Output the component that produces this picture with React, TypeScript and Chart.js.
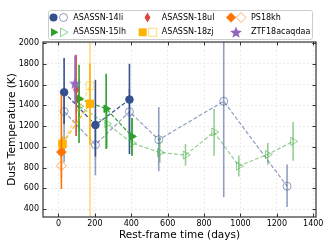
import { useEffect, useRef } from 'react';
import { Chart, registerables } from 'chart.js';
Chart.register(...registerables);

// ---- data ----
const li14Days = [31, 203, 390];
const li14Temp = [1525, 1210, 1455];
const li14Lo = [1220, 905, 930];
const li14Hi = [1855, 1645, 1800];

const li14oDays = [31, 203, 390, 551, 908, 1256];
const li14oTemp = [1340, 1020, 1338, 1068, 1438, 620];
const li14oLo = [850, 725, 1100, 765, 515, 420];
const li14oHi = [1560, 1300, 1560, 1383, 2200, 828];

const lh15Days = [113, 262, 404];
const lh15Temp = [1463, 1367, 1100];
const lh15Lo = [1036, 978, 914];
const lh15Hi = [1790, 1704, 1277];

const lh15oDays = [113, 267, 404, 557, 698, 855, 991, 1150, 1289];
const lh15oTemp = [1390, 1222, 1036, 945, 920, 1142, 814, 926, 1052];
const lh15oLo = [1150, 990, 915, 845, 817, 914, 714, 827, 866];
const lh15oHi = [1650, 1357, 1280, 1095, 1026, 1367, 917, 1037, 1238];

const ul18Days = [97];
const ul18Temp = [1550];
const ul18Lo = [1105];
const ul18Hi = [1887];

const zj18Days = [22, 173];
const zj18Temp = [1030, 1415];
const zj18Lo = [960, 1020];
const zj18Hi = [1100, 1800];

const zj18oDays = [22, 173];
const zj18oTemp = [1020, 1588];
const zj18oLo = [950, 250];
const zj18oHi = [1090, 2200];

const kh18Days = [16];
const kh18Temp = [949];
const kh18Lo = [593];
const kh18Hi = [1500];

const kh18oDays = [16];
const kh18oTemp = [817];
const kh18oLo = [700];
const kh18oHi = [950];

const ztfDays = [91];
const ztfTemp = [1610];
const ztfLo = [1420];
const ztfHi = [1880];

const legendLabels = ['ASASSN-14li', 'ASASSN-15lh', 'ASASSN-18ul', 'ASASSN-18zj', 'PS18kh', 'ZTF18acaqdaa'];

// ---- colours ----
const NAVY = '#34508e';
const NAVY_L = 'rgba(52,80,142,0.55)';
const GREEN = '#2ca02c';
const GREEN_L = 'rgba(44,160,44,0.5)';
const RED = '#d9473e';
const YELLOW = '#ffb300';
const YELLOW_L = 'rgba(255,179,0,0.5)';
const ORANGE = '#ff7300';
const ORANGE_L = 'rgba(255,115,0,0.6)';
const PURPLE = '#9467bd';
const FONT = '"DejaVu Sans", sans-serif';

function starPath(ctx: CanvasRenderingContext2D, cx: number, cy: number, ro: number, ri: number) {
  ctx.beginPath();
  for (let i = 0; i < 10; i++) {
    const r = i % 2 === 0 ? ro : ri;
    const a = -Math.PI / 2 + (i * Math.PI) / 5;
    const px = cx + r * Math.cos(a);
    const py = cy + r * Math.sin(a);
    if (i === 0) ctx.moveTo(px, py);
    else ctx.lineTo(px, py);
  }
  ctx.closePath();
}

function makeStar(): HTMLCanvasElement {
  const c = document.createElement('canvas');
  c.width = 14;
  c.height = 14;
  const g = c.getContext('2d')!;
  starPath(g, 7, 7.5, 6.2, 2.7);
  g.fillStyle = PURPLE;
  g.fill();
  return c;
}

function makeThinDiamond(): HTMLCanvasElement {
  const c = document.createElement('canvas');
  c.width = 8;
  c.height = 12;
  const g = c.getContext('2d')!;
  g.beginPath();
  g.moveTo(4, 1);
  g.lineTo(7, 6);
  g.lineTo(4, 11);
  g.lineTo(1, 6);
  g.closePath();
  g.fillStyle = RED;
  g.fill();
  return c;
}

const pts = (xs: number[], ys: number[]) => xs.map((x, i) => ({ x, y: ys[i] }));

const errPlugin = {
  id: 'errbars',
  beforeDatasetDraw(chart: any, args: any) {
    const ds = chart.data.datasets[args.index];
    if (!ds.errLo) return;
    const { ctx, chartArea } = chart;
    const xs = chart.scales.x;
    const ys = chart.scales.y;
    ctx.save();
    ctx.beginPath();
    ctx.rect(chartArea.left, chartArea.top, chartArea.right - chartArea.left, chartArea.bottom - chartArea.top);
    ctx.clip();
    ctx.strokeStyle = ds.errColor;
    ctx.lineWidth = 1.6;
    ds.data.forEach((p: any, i: number) => {
      const px = xs.getPixelForValue(p.x);
      ctx.beginPath();
      ctx.moveTo(px, ys.getPixelForValue(ds.errLo[i]));
      ctx.lineTo(px, ys.getPixelForValue(ds.errHi[i]));
      ctx.stroke();
    });
    ctx.restore();
  },
};

function drawMarker(ctx: CanvasRenderingContext2D, kind: string, x: number, y: number, color: string, open: boolean) {
  ctx.save();
  ctx.beginPath();
  if (kind === 'circle') {
    ctx.arc(x, y, 4, 0, Math.PI * 2);
  } else if (kind === 'tri') {
    ctx.moveTo(x + 5, y);
    ctx.lineTo(x - 2.5, y - 4.3);
    ctx.lineTo(x - 2.5, y + 4.3);
    ctx.closePath();
  } else if (kind === 'square') {
    ctx.rect(x - 4, y - 4, 8, 8);
  } else if (kind === 'diamond') {
    ctx.moveTo(x, y - 5);
    ctx.lineTo(x + 5, y);
    ctx.lineTo(x, y + 5);
    ctx.lineTo(x - 5, y);
    ctx.closePath();
  } else if (kind === 'thin') {
    ctx.moveTo(x, y - 5);
    ctx.lineTo(x + 3, y);
    ctx.lineTo(x, y + 5);
    ctx.lineTo(x - 3, y);
    ctx.closePath();
  } else if (kind === 'star') {
    starPath(ctx, x, y + 0.5, 6.2, 2.7);
  }
  if (open) {
    ctx.strokeStyle = color;
    ctx.lineWidth = 1;
    ctx.stroke();
  } else {
    ctx.fillStyle = color;
    ctx.fill();
  }
  ctx.restore();
}

const framePlugin = {
  id: 'frameLegend',
  afterDraw(chart: any) {
    const { ctx, chartArea } = chart;
    const { left, right, top, bottom } = chartArea;
    ctx.save();
    ctx.strokeStyle = '#333';
    ctx.lineWidth = 1.2;
    ctx.strokeRect(left, top, right - left, bottom - top);
    ctx.lineWidth = 1;
    const tl = 3.5;
    const xs = chart.scales.x;
    const ys = chart.scales.y;
    xs.ticks.forEach((t: any) => {
      const px = Math.round(xs.getPixelForValue(t.value)) + 0.5;
      ctx.beginPath();
      ctx.moveTo(px, bottom);
      ctx.lineTo(px, bottom - tl);
      ctx.moveTo(px, top);
      ctx.lineTo(px, top + tl);
      ctx.stroke();
    });
    ys.ticks.forEach((t: any) => {
      const py = Math.round(ys.getPixelForValue(t.value)) + 0.5;
      ctx.beginPath();
      ctx.moveTo(left, py);
      ctx.lineTo(left + tl, py);
      ctx.moveTo(right, py);
      ctx.lineTo(right - tl, py);
      ctx.stroke();
    });

    // legend
    const bx = 48, by = 10.5, bw = 264, bh = 29;
    ctx.fillStyle = 'rgba(255,255,255,0.9)';
    ctx.strokeStyle = '#cccccc';
    ctx.lineWidth = 1;
    ctx.beginPath();
    (ctx as any).roundRect(bx + 0.5, by, bw, bh, 2);
    ctx.fill();
    ctx.stroke();
    const r1 = 17.5, r2 = 32.3;
    drawMarker(ctx, 'circle', 53.5, r1, NAVY, false);
    drawMarker(ctx, 'circle', 63.5, r1, NAVY_L, true);
    drawMarker(ctx, 'tri', 53.5, r2, GREEN, false);
    drawMarker(ctx, 'tri', 63, r2, GREEN_L, true);
    drawMarker(ctx, 'thin', 147.5, r1, RED, false);
    drawMarker(ctx, 'square', 142.7, r2, YELLOW, false);
    drawMarker(ctx, 'square', 152.7, r2, YELLOW_L, true);
    drawMarker(ctx, 'diamond', 231, r1, ORANGE, false);
    drawMarker(ctx, 'diamond', 241, r1, ORANGE_L, true);
    drawMarker(ctx, 'star', 236, r2, PURPLE, false);
    ctx.fillStyle = '#000';
    ctx.font = '8px ' + FONT;
    ctx.textBaseline = 'middle';
    ctx.textAlign = 'left';
    ctx.fillText(legendLabels[0], 73.3, r1);
    ctx.fillText(legendLabels[1], 73.3, r2);
    ctx.fillText(legendLabels[2], 161.7, r1);
    ctx.fillText(legendLabels[3], 161.7, r2);
    ctx.fillText(legendLabels[4], 251, r1);
    ctx.fillText(legendLabels[5], 251, r2);
    ctx.restore();
  },
};

export default function App() {
  const ref = useRef<HTMLCanvasElement>(null);
  useEffect(() => {
    const star = makeStar();
    const thin = makeThinDiamond();
    const dash = [4, 2];
    const base = (over: any) => ({
      showLine: true,
      borderWidth: 1.2,
      borderDash: dash,
      pointBorderWidth: 1,
      fill: false,
      tension: 0,
      ...over,
    });
    const datasets: any[] = [
      base({
        label: 'ASASSN-14li open', data: pts(li14oDays, li14oTemp), borderColor: NAVY_L,
        pointStyle: 'circle', pointRadius: 4, pointBackgroundColor: 'rgba(0,0,0,0)', pointBorderColor: NAVY_L,
        errLo: li14oLo, errHi: li14oHi, errColor: NAVY_L, order: 100,
      }),
      base({
        label: 'ASASSN-14li', data: pts(li14Days, li14Temp), borderColor: NAVY,
        pointStyle: 'circle', pointRadius: 3.8, pointBackgroundColor: NAVY, pointBorderColor: NAVY,
        errLo: li14Lo, errHi: li14Hi, errColor: NAVY, order: 99,
      }),
      base({
        label: 'ASASSN-15lh open', data: pts(lh15oDays, lh15oTemp), borderColor: GREEN_L,
        pointStyle: 'triangle', pointRotation: 90, pointRadius: 4.6, pointBackgroundColor: 'rgba(0,0,0,0)', pointBorderColor: GREEN_L,
        errLo: lh15oLo, errHi: lh15oHi, errColor: GREEN_L, order: 98,
      }),
      base({
        label: 'ASASSN-15lh', data: pts(lh15Days, lh15Temp), borderColor: GREEN,
        pointStyle: 'triangle', pointRotation: 90, pointRadius: 4.4, pointBackgroundColor: GREEN, pointBorderColor: GREEN,
        errLo: lh15Lo, errHi: lh15Hi, errColor: GREEN, order: 97,
      }),
      base({
        label: 'ASASSN-18ul', data: pts(ul18Days, ul18Temp), borderColor: RED,
        pointStyle: thin, pointRadius: 5,
        errLo: ul18Lo, errHi: ul18Hi, errColor: RED, order: 96,
      }),
      base({
        label: 'ASASSN-18zj open', data: pts(zj18oDays, zj18oTemp), borderColor: YELLOW_L,
        pointStyle: 'rect', pointRadius: 5.5, pointBackgroundColor: 'rgba(0,0,0,0)', pointBorderColor: YELLOW_L,
        errLo: zj18oLo, errHi: zj18oHi, errColor: YELLOW_L, order: 95,
      }),
      base({
        label: 'ASASSN-18zj', data: pts(zj18Days, zj18Temp), borderColor: YELLOW,
        pointStyle: 'rect', pointRadius: 5.2, pointBackgroundColor: YELLOW, pointBorderColor: YELLOW,
        errLo: zj18Lo, errHi: zj18Hi, errColor: YELLOW, order: 94,
      }),
      base({
        label: 'PS18kh open', data: pts(kh18oDays, kh18oTemp), borderColor: ORANGE_L,
        pointStyle: 'rectRot', pointRadius: 5, pointBackgroundColor: 'rgba(0,0,0,0)', pointBorderColor: ORANGE_L,
        errLo: kh18oLo, errHi: kh18oHi, errColor: ORANGE_L, order: 93,
      }),
      base({
        label: 'PS18kh', data: pts(kh18Days, kh18Temp), borderColor: ORANGE,
        pointStyle: 'rectRot', pointRadius: 4.8, pointBackgroundColor: ORANGE, pointBorderColor: ORANGE,
        errLo: kh18Lo, errHi: kh18Hi, errColor: ORANGE, order: 92,
      }),
      base({
        label: 'ZTF18acaqdaa', data: pts(ztfDays, ztfTemp), borderColor: PURPLE,
        pointStyle: star, pointRadius: 6,
        errLo: ztfLo, errHi: ztfHi, errColor: PURPLE, order: 91,
      }),
    ];

    const chart = new Chart(ref.current!, {
      type: 'scatter',
      data: { datasets },
      plugins: [errPlugin, framePlugin],
      options: {
        animation: false,
        responsive: false,
        devicePixelRatio: 1,
        layout: { padding: { top: 42, right: 16, left: 0, bottom: 0 } },
        plugins: { legend: { display: false }, tooltip: { enabled: false } },
        font: { family: FONT },
        scales: {
          x: {
            type: 'linear',
            min: -85,
            max: 1415,
            afterFit: (s: any) => { s.height = 32; },
            grid: { color: '#e8e8e8', lineWidth: 0.8, drawTicks: false },
            border: { display: false, dash: [2, 2] },
            ticks: {
              stepSize: 200, includeBounds: false, padding: 2, color: '#000',
              font: { family: FONT, size: 8 },
              callback: (v: any) => String(v),
            },
            title: {
              display: true, text: 'Rest-frame time (days)', color: '#000',
              font: { family: FONT, size: 10.5 }, padding: { top: 0, bottom: 7.5 },
            },
          },
          y: {
            type: 'linear',
            min: 323,
            max: 2010,
            afterFit: (s: any) => { s.width = 43; },
            grid: { color: '#e8e8e8', lineWidth: 0.8, drawTicks: false },
            border: { display: false, dash: [2, 2] },
            ticks: {
              stepSize: 200, includeBounds: false, padding: 4, color: '#000',
              font: { family: FONT, size: 8 },
              callback: (v: any) => String(v),
            },
            title: {
              display: true, text: 'Dust Temperature (K)', color: '#000',
              font: { family: FONT, size: 10.5 }, padding: { top: 6, bottom: 0 },
            },
          },
        },
      } as any,
    });
    return () => chart.destroy();
  }, []);

  return (
    <div style={{ position: 'fixed', left: 0, top: 0, width: 332, height: 249, background: '#fff' }}>
      <canvas ref={ref} width={332} height={249} style={{ width: 332, height: 249, display: 'block' }} />
    </div>
  );
}
